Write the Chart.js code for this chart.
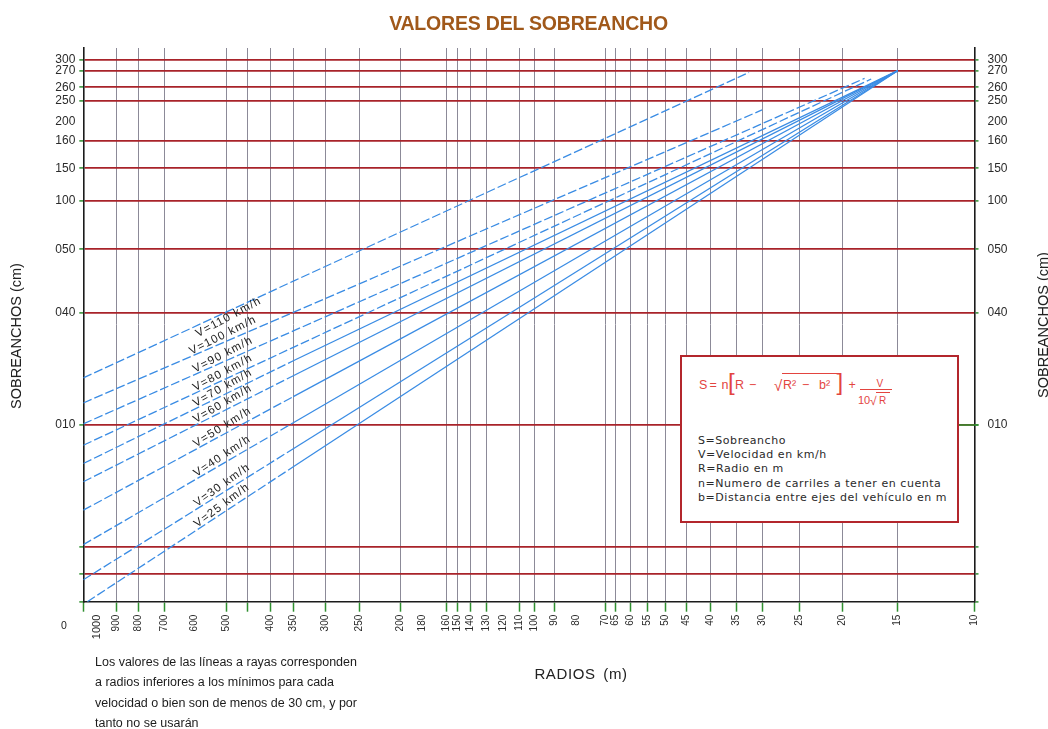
<!DOCTYPE html>
<html lang="es">
<head>
<meta charset="utf-8">
<title>Valores del sobreancho</title>
<script src="https://cdn.jsdelivr.net/npm/chart.js@4.4.1/dist/chart.umd.min.js"></script>
<style>
  html, body { margin: 0; padding: 0; background: #fff; }
  #lienzo { position: relative; width: 1048px; height: 729px; overflow: hidden; background: #fff; }
  #grafico { position: absolute; left: 0; top: 0; }
  .txt { position: absolute; white-space: nowrap; line-height: 1; }
  .titulo { left: 0; width: 1057px; top: 11.5px; text-align: center; font: bold 19.5px "Liberation Sans", Arial, sans-serif; color: #a0581a; letter-spacing: -0.2px; }
  .eje { width: 240px; height: 20px; line-height: 20px; text-align: center; font: 14.5px "Liberation Sans", Arial, sans-serif; color: #222; transform: rotate(-90deg); }
  .radios { left: 481px; width: 200px; top: 665px; text-align: center; font: 15px "Liberation Sans", Arial, sans-serif; color: #222; letter-spacing: 0.6px; word-spacing: 3px; }
  .cero { left: 61px; top: 619px; font: 10.5px "Liberation Sans", Arial, sans-serif; color: #222; }
  .nota { left: 95px; top: 652px; font: 12.5px "Liberation Sans", Arial, sans-serif; color: #1c1c1c; line-height: 20.3px; }
  #caja { position: absolute; left: 680px; top: 355px; width: 279px; height: 168px; box-sizing: border-box; border: 2px solid #b3262c; background: #fff; }
  #caja .f { position: absolute; line-height: 1; white-space: nowrap; color: #e3443f; font-family: "Liberation Sans", Arial, sans-serif; font-size: 12.5px; }
  #caja .raya { position: absolute; height: 0; border-top: 1px solid #e3443f; }
  #caja .leyenda { position: absolute; left: 16px; top: 77px; font: 11px "DejaVu Sans", sans-serif; line-height: 14.2px; letter-spacing: 0.55px; color: #2a2a2a; white-space: nowrap; }
</style>
</head>
<body>
<div id="lienzo">
  <canvas id="grafico" width="1048" height="729"></canvas>

  <div class="txt titulo">VALORES DEL SOBREANCHO</div>
  <div class="txt eje" style="left:-102px; top:326px;">SOBREANCHOS (cm)</div>
  <div class="txt eje" style="left:925px; top:315px;">SOBREANCHOS (cm)</div>
  <div class="txt radios">RADIOS (m)</div>
  <div class="txt cero">0</div>
  <div class="txt nota">Los valores de las líneas a rayas corresponden<br>a radios inferiores a los mínimos para cada<br>velocidad o bien son de menos de 30 cm, y por<br>tanto no se usarán</div>

  <div id="caja">
    <span class="f" style="left:17px; top:22px;">S</span>
    <span class="f" style="left:27.5px; top:22px;">=</span>
    <span class="f" style="left:39.5px; top:22px;">n</span>
    <span class="f" style="left:46px; top:12.7px; font-size:24px;">[</span>
    <span class="f" style="left:53px; top:22px;">R</span>
    <span class="f" style="left:67px; top:22px;">−</span>
    <span class="f" style="left:92px; top:21.3px; font-size:15px;">√</span>
    <span class="raya" style="left:100px; top:15.7px; width:59px;"></span>
    <span class="f" style="left:101px; top:22px;">R²</span>
    <span class="f" style="left:120px; top:22px;">−</span>
    <span class="f" style="left:137px; top:22px;">b²</span>
    <span class="f" style="left:154.5px; top:12.7px; font-size:24px;">]</span>
    <span class="f" style="left:166.5px; top:22px;">+</span>
    <span class="f" style="left:194.5px; top:21.5px; font-size:10px;">V</span>
    <span class="raya" style="left:178px; top:32px; width:32px;"></span>
    <span class="f" style="left:176px; top:37.7px; font-size:11px;">10</span>
    <span class="f" style="left:188px; top:37.8px; font-size:12px;">√</span>
    <span class="raya" style="left:194px; top:35px; width:14px;"></span>
    <span class="f" style="left:197px; top:38.5px; font-size:10px;">R</span>
    <div class="leyenda">S=Sobreancho<br>V=Velocidad en km/h<br>R=Radio en m<br>n=Numero de carriles a tener en cuenta<br>b=Distancia entre ejes del vehículo en m</div>
  </div>
</div>

<script>
// ---- Datos ----------------------------------------------------------
// Radios (m) rotulados en el eje horizontal
const radiosRotulados = [1000, 900, 800, 700, 600, 500, 400, 350, 300, 250, 200, 180, 160, 150, 140, 130,
  120, 110, 100, 90, 80, 70, 65, 60, 55, 50, 45, 40, 35, 30, 25, 20, 15, 10];
// Radios con línea vertical de referencia
const radiosConLinea = [900, 800, 700, 500, 450, 400, 350, 300, 250, 200, 160, 150, 140, 130, 110, 100, 90,
  70, 65, 60, 55, 50, 45, 40, 35, 30, 25, 20, 15];
// Sobreanchos (cm) rotulados en los ejes verticales
const sobreanchosRotulados = [300, 270, 260, 250, 200, 160, 150, 100, 50, 40, 10];
// Sobreanchos con línea horizontal de referencia
const sobreanchosConLinea = [2, 4, 10, 40, 50, 100, 150, 160, 250, 260, 270, 300];

// Velocidades de proyecto (km/h)
const velocidades = [110, 100, 90, 80, 70, 60, 50, 40, 30, 25];
// Radios de cada curva (m): inicio, cambio de trazo, final
const radiosCurvas = [
  [1100, 350, 32.5],
  [1100, 350, 30],
  [1100, 350, 18],
  [1100, 350, 17.4],
  [1100, 350, 15],
  [1100, 350, 15],
  [1100, 350, 15],
  [1100, 350, 15],
  [1100, 350, 15],
  [1070, 350, 15]
];
// Sobreanchos de cada curva (cm)
const sobreanchosCurvas = [
  [22.6, 45.0, 269],
  [15.9, 40.1, 228],
  [10.3, 35.2, 265.4],
  [9.0, 30.8, 265],
  [8.1, 27.2, 270],
  [7.2, 23.2, 270],
  [5.8, 17.6, 270],
  [4.1, 10.6, 270],
  [1.6, 8.83, 270],
  [0, 7.94, 270]
];
// Tramos a rayas de cada curva (true = a rayas)
const tramosARayas = [
  [true, true], [true, true], [true, true], [true, true],
  [true, false], [true, false], [true, false], [true, false], [true, false], [true, false]
];
// Rótulo por debajo de la curva (solo la de 110 km/h)
const rotuloDebajo = [true, false, false, false, false, false, false, false, false, false];

// ---- Escala por tramos: cada valor rotulado tiene su propia posición ----
class EscalaTramos extends Chart.LinearScale {
  static id = 'tramos';
  static defaults = {};
  _decimal(v) {
    const t = this.options.tramos;
    const span = t[t.length - 1][1];
    for (let i = 0; i < t.length - 1; i++) {
      const [v0, o0] = t[i], [v1, o1] = t[i + 1];
      if (v >= Math.min(v0, v1) && v <= Math.max(v0, v1)) {
        return (o0 + (v - v0) / (v1 - v0) * (o1 - o0)) / span;
      }
    }
    const nearFirst = Math.abs(v - t[0][0]) < Math.abs(v - t[t.length - 1][0]);
    const [a, b] = nearFirst ? [t[0], t[1]] : [t[t.length - 2], t[t.length - 1]];
    return (a[1] + (v - a[0]) / (b[0] - a[0]) * (b[1] - a[1])) / span;
  }
  getPixelForValue(v) {
    if (v === null || v === undefined || isNaN(v)) return NaN;
    return this.getPixelForDecimal(this._decimal(v));
  }
  getValueForPixel(p) {
    const t = this.options.tramos;
    const o = this.getDecimalForPixel(p) * t[t.length - 1][1];
    for (let i = 0; i < t.length - 1; i++) {
      const [v0, o0] = t[i], [v1, o1] = t[i + 1];
      if (o >= o0 && o <= o1) return v0 + (o - o0) / (o1 - o0) * (v1 - v0);
    }
    return o < 0 ? t[0][0] : t[t.length - 1][0];
  }
}
Chart.register(EscalaTramos);

// Posición de cada valor a lo largo del eje (origen en el extremo inicial)
const tramosRadio = [[1100, 0], [1000, 13.4], [900, 33.4], [800, 55], [700, 80.7], [600, 110.7], [500, 142.7],
  [450, 164], [400, 187], [350, 210], [300, 242.4], [250, 275.7], [200, 316.7], [180, 339.4], [160, 363.2],
  [150, 374.4], [140, 387], [130, 402.7], [120, 420], [110, 436], [100, 451], [90, 470.7], [80, 493.4],
  [70, 522], [65, 532], [60, 546.7], [55, 564.4], [50, 582.4], [45, 603.4], [40, 626.9], [35, 652.7],
  [30, 678.7], [25, 716], [20, 759.2], [15, 814.4], [10, 891.2]];
const tramosSobreancho = [[0, 0], [2, 27.4], [4, 55], [10, 176.7], [40, 288.7], [50, 352.4], [100, 400.7],
  [150, 433.4], [160, 461], [200, 480], [250, 501], [260, 514.4], [270, 531], [300, 541.7], [320, 553.7]];

// ---- Estilos ----
const AZUL = '#3a8ce4';
const ROJO = '#a8232a';
const GRIS = '#8c8a98';
const VERDE = '#2f8f2f';
const NEGRO = '#1b1b1b';
const TRANSP = 'rgba(0,0,0,0)';
const FUENTE = '"Liberation Sans", Arial, sans-serif';

const ticksRadio = Array.from(new Set([1100, ...radiosRotulados, ...radiosConLinea])).sort((a, b) => b - a);
const ticksSobreancho = Array.from(new Set([0, ...sobreanchosRotulados, ...sobreanchosConLinea])).sort((a, b) => a - b);
const rotuloSobreancho = v => sobreanchosRotulados.includes(v) ? String(v).padStart(3, '0') : '';

const datasets = velocidades.map((vel, i) => ({
  label: 'V=' + vel + ' km/h',
  data: radiosCurvas[i].map((r, k) => ({ x: r, y: sobreanchosCurvas[i][k] })),
  borderColor: AZUL,
  borderWidth: 1.3,
  pointRadius: 0,
  fill: false,
  tension: 0,
  segment: { borderDash: ctx => tramosARayas[i][ctx.p0DataIndex] ? [9, 3] : undefined }
}));

function escalaVertical(posicion, ancho, relleno, enArea) {
  return {
    type: 'tramos',
    position: posicion,
    tramos: tramosSobreancho,
    min: 0, max: 320,
    afterBuildTicks: s => { s.ticks = ticksSobreancho.map(v => ({ value: v })); },
    afterFit: s => { s.width = ancho; },
    border: { display: true, color: NEGRO, width: 1.6 },
    grid: {
      drawOnChartArea: enArea,
      lineWidth: 1.8,
      color: ctx => (ctx.tick && sobreanchosConLinea.includes(ctx.tick.value)) ? ROJO : TRANSP,
      tickColor: ctx => (ctx.tick && ctx.tick.value !== 200) ? VERDE : TRANSP,
      tickWidth: 1.5,
      tickLength: 4
    },
    ticks: {
      autoSkip: false,
      padding: relleno,
      color: '#2b2b2b',
      font: { family: FUENTE, size: 12 },
      callback: v => rotuloSobreancho(v)
    }
  };
}

// Rótulos de velocidad escritos junto a cada curva
const rotulosCurvas = {
  id: 'rotulosCurvas',
  afterDatasetsDraw(chart) {
    const ctx = chart.ctx;
    const xr = chart.scales.x.getPixelForValue(500);
    chart.data.datasets.forEach((ds, i) => {
      const pts = chart.getDatasetMeta(i).data;
      for (let k = 0; k < pts.length - 1; k++) {
        const a = pts[k], b = pts[k + 1];
        if (xr >= a.x && xr <= b.x) {
          const y = a.y + (xr - a.x) / (b.x - a.x) * (b.y - a.y);
          const ang = Math.atan2(b.y - a.y, b.x - a.x) - 0.06;
          ctx.save();
          ctx.translate(xr, y);
          ctx.rotate(ang);
          ctx.font = '11.5px ' + FUENTE;
          ctx.letterSpacing = '1.2px';
          ctx.fillStyle = '#222';
          ctx.textAlign = 'center';
          if (rotuloDebajo[i]) {
            ctx.textBaseline = 'top';
            ctx.fillText(ds.label, 0, 0);
          } else {
            ctx.textBaseline = 'bottom';
            ctx.fillText(ds.label, 0, -1);
          }
          ctx.restore();
          break;
        }
      }
    });
  },
  afterDraw(chart) {
    // marca verde del 010 a la derecha del recuadro
    const ctx = chart.ctx;
    const y = chart.scales.y.getPixelForValue(10);
    const r = chart.chartArea.right;
    ctx.save();
    ctx.strokeStyle = VERDE;
    ctx.lineWidth = 1.6;
    ctx.beginPath();
    ctx.moveTo(r - 18, y);
    ctx.lineTo(r + 4, y);
    ctx.stroke();
    ctx.restore();
  }
};

new Chart(document.getElementById('grafico'), {
  type: 'line',
  data: { datasets },
  plugins: [rotulosCurvas],
  options: {
    responsive: false,
    animation: false,
    events: [],
    layout: { padding: { top: 48, left: 0, right: 0, bottom: 0 } },
    plugins: { legend: { display: false }, tooltip: { enabled: false }, title: { display: false } },
    scales: {
      x: {
        type: 'tramos',
        position: 'bottom',
        tramos: tramosRadio,
        min: 10, max: 1100,
        afterBuildTicks: s => { s.ticks = ticksRadio.map(v => ({ value: v })); },
        afterFit: s => { s.height = 127.3; },
        border: { display: true, color: NEGRO, width: 1.6 },
        grid: {
          lineWidth: 1,
          color: ctx => (ctx.tick && radiosConLinea.includes(ctx.tick.value)) ? GRIS : TRANSP,
          tickColor: ctx => (ctx.tick && (radiosConLinea.includes(ctx.tick.value) || ctx.tick.value === 1100 || ctx.tick.value === 10)) ? VERDE : TRANSP,
          tickWidth: 1.5,
          tickLength: 10
        },
        ticks: {
          autoSkip: false,
          minRotation: 90,
          maxRotation: 90,
          padding: 3,
          color: '#2b2b2b',
          font: ctx => ({ family: FUENTE, size: (ctx.tick && ctx.tick.value === 1000) ? 11 : 10 }),
          callback: v => radiosRotulados.includes(v) ? String(v) : ''
        }
      },
      y: escalaVertical('left', 83.3, 4, true),
      y2: escalaVertical('right', 73.5, 9, false)
    }
  }
});
</script>
</body>
</html>
